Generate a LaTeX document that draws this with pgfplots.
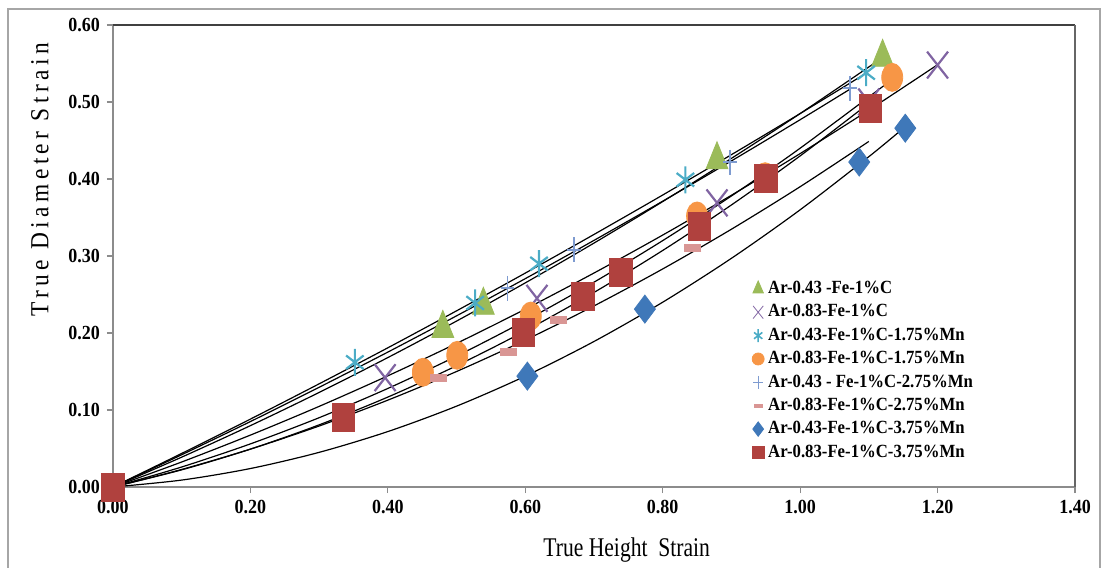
\documentclass[border=0pt]{standalone}
\usepackage{fontspec}
\setmainfont{Liberation Serif}[FakeStretch=0.9]
\usepackage{pgfplots}
\pgfplotsset{compat=1.18}
\definecolor{grn}{HTML}{9BBB59}
\definecolor{pur}{HTML}{8064A2}
\definecolor{cyn}{HTML}{4BACC6}
\definecolor{org}{HTML}{F79646}
\definecolor{plb}{HTML}{7E9BD0}
\definecolor{pnk}{HTML}{D99694}
\definecolor{dia}{HTML}{3F78B9}
\definecolor{sqr}{HTML}{B0413E}
\definecolor{framegray}{HTML}{A6A6A6}
\definecolor{axisgray}{HTML}{8C8C8C}
\pgfplotsset{trend/.style={black, line width=0.6pt, smooth, no marks, forget plot}}

\begin{document}
\begin{tikzpicture}
\begin{axis}[name=ax, at={(0,0)}, anchor=south west,
  scale only axis, width=481pt, height=231pt,
  xmin=0, xmax=1.4, ymin=0, ymax=0.6,
  xtick={0,0.2,0.4,0.6,0.8,1.0,1.2,1.4},
  ytick={0,0.1,0.2,0.3,0.4,0.5,0.6},
  axis lines=left, axis line style={-, draw=axisgray, line width=0.6pt},
  tick align=outside, major tick length=3pt,
  tick style={draw=axisgray, line width=0.6pt},
  clip=false,
  /pgf/number format/.cd, fixed, fixed zerofill, precision=2, assume math mode=true, /pgfplots/.cd,
  tick label style={font=\fontsize{10}{12}\selectfont\bfseries},
  xlabel={True Height\ \ Strain},
  ylabel={True Diameter Strain},
  xlabel style={at={(axis description cs:0.534,-0.136)}, anchor=center, font=\fontsize{13.5}{15}\selectfont\addfontfeatures{FakeStretch=0.8}},
  ylabel style={at={(axis description cs:-0.0759,0.665)}, anchor=center, font=\fontsize{13}{15}\selectfont\addfontfeatures{LetterSpace=17}},
  legend cell align=left,
  legend style={at={(0.664,0.455)}, anchor=north west, draw=none, fill=none,
    font=\fontsize{9.3}{11}\selectfont\bfseries, row sep=0pt, inner sep=0pt},
]
% markers (legend order, later on top)
\addplot[only marks, mark=triangle*, mark size=9pt, color=grn, mark options={xscale=0.7}, forget plot]
  coordinates {(0.480,0.206) (0.539,0.236) (0.879,0.425) (1.120,0.558)};
\addplot[only marks, mark=x, mark size=9.5pt, color=pur, mark options={xscale=0.78, line width=1.1pt}, forget plot]
  coordinates {(0.396,0.142) (0.617,0.245) (0.879,0.369) (1.100,0.500) (1.200,0.548)};
\addplot[only marks, mark=asterisk, mark size=6.75pt, color=cyn, mark options={xscale=0.75, line width=1.1pt}, forget plot]
  coordinates {(0.352,0.162) (0.527,0.239) (0.620,0.290) (0.833,0.399) (1.096,0.538)};
\addplot[only marks, mark=*, mark size=7pt, color=org, mark options={xscale=0.75}, forget plot]
  coordinates {(0.451,0.149) (0.501,0.171) (0.608,0.222) (0.850,0.352) (0.949,0.403) (1.134,0.532)};
\addplot[only marks, mark=+, mark size=6.25pt, color=plb, mark options={xscale=0.55, line width=0.9pt}, forget plot]
  coordinates {(0.574,0.258) (0.671,0.308) (0.898,0.422) (1.073,0.518)};
\addplot[only marks, mark=-, mark size=4.25pt, color=pnk, mark options={line width=4pt}, forget plot]
  coordinates {(0.473,0.142) (0.575,0.175) (0.648,0.217) (0.844,0.310) (1.100,0.478)};
\addplot[only marks, mark=diamond*, mark size=7pt, color=dia, forget plot]
  coordinates {(0.603,0.144) (0.774,0.231) (1.086,0.422) (1.153,0.466)};
\addplot[only marks, mark=square*, mark size=7pt, color=sqr, mark options={xscale=0.8}, forget plot]
  coordinates {(0,0) (0.335,0.090) (0.597,0.201) (0.684,0.247) (0.739,0.279) (0.853,0.338) (0.950,0.401) (1.102,0.492)};
% polynomial trend lines
\addplot[trend] coordinates {(0,0) (0.1,0.0388) (0.2,0.0797) (0.3,0.1228) (0.4,0.1681) (0.5,0.2155) (0.6,0.2651) (0.7,0.3168) (0.8,0.3707) (0.9,0.4268) (1.0,0.4850) (1.12,0.5577)};
\addplot[trend] coordinates {(0,0) (0.1,0.0325) (0.2,0.0674) (0.3,0.1047) (0.4,0.1444) (0.5,0.1865) (0.6,0.2310) (0.7,0.2779) (0.8,0.3272) (0.9,0.3789) (1.0,0.4330) (1.1,0.4895) (1.2,0.5484)};
\addplot[trend] coordinates {(0,0) (0.1,0.0436) (0.2,0.0882) (0.3,0.1340) (0.4,0.1808) (0.5,0.2288) (0.6,0.2778) (0.7,0.3280) (0.8,0.3792) (0.9,0.4316) (1.0,0.4850) (1.096,0.5374)};
\addplot[trend] coordinates {(0,0) (0.1,0.026) (0.2,0.056) (0.3,0.090) (0.4,0.128) (0.5,0.170) (0.6,0.216) (0.7,0.266) (0.8,0.320) (0.9,0.378) (1.0,0.440) (1.134,0.5294)};
\addplot[trend] coordinates {(0,0) (0.1,0.0419) (0.2,0.0850) (0.3,0.1295) (0.4,0.1752) (0.5,0.2223) (0.6,0.2706) (0.7,0.3203) (0.8,0.3712) (0.9,0.4235) (1.0,0.4770) (1.073,0.5169)};
\addplot[trend] coordinates {(0,0) (0.1,0.0228) (0.2,0.0492) (0.3,0.0792) (0.4,0.1128) (0.5,0.1500) (0.6,0.1908) (0.7,0.2352) (0.8,0.2832) (0.9,0.3348) (1.0,0.3900) (1.1,0.4488)};
\addplot[trend] coordinates {(0,0) (0.1,0.009) (0.2,0.024) (0.3,0.045) (0.4,0.072) (0.5,0.105) (0.6,0.144) (0.7,0.189) (0.8,0.240) (0.9,0.297) (1.0,0.360) (1.1,0.429) (1.153,0.468)};
\addplot[trend] coordinates {(0,0) (0.1,0.0223) (0.2,0.0492) (0.3,0.0807) (0.4,0.1168) (0.5,0.1575) (0.6,0.2028) (0.7,0.2527) (0.8,0.3072) (0.9,0.3663) (1.0,0.4300) (1.102,0.4997)};
% legend
\addlegendimage{only marks, mark=triangle*, mark size=4pt, color=grn, mark options={xscale=0.75}}
\addlegendentry{Ar-0.43 -Fe-1\%C}
\addlegendimage{only marks, mark=x, mark size=4.5pt, color=pur, mark options={xscale=0.8}}
\addlegendentry{Ar-0.83-Fe-1\%C}
\addlegendimage{only marks, mark=asterisk, mark size=3.2pt, color=cyn, mark options={xscale=0.75, line width=0.8pt}}
\addlegendentry{Ar-0.43-Fe-1\%C-1.75\%Mn}
\addlegendimage{only marks, mark=*, mark size=3pt, color=org}
\addlegendentry{Ar-0.83-Fe-1\%C-1.75\%Mn}
\addlegendimage{only marks, mark=+, mark size=3.2pt, color=plb, mark options={xscale=0.8}}
\addlegendentry{Ar-0.43 - Fe-1\%C-2.75\%Mn}
\addlegendimage{only marks, mark=-, mark size=2.2pt, color=pnk, mark options={line width=2pt}}
\addlegendentry{Ar-0.83-Fe-1\%C-2.75\%Mn}
\addlegendimage{only marks, mark=diamond*, mark size=3.6pt, color=dia}
\addlegendentry{Ar-0.43-Fe-1\%C-3.75\%Mn}
\addlegendimage{only marks, mark=square*, mark size=3pt, color=sqr}
\addlegendentry{Ar-0.83-Fe-1\%C-3.75\%Mn}
% plot area border on top and right
\draw[black!75, line width=1.2pt] (rel axis cs:0,1) -- (rel axis cs:1,1);
\draw[black!60, line width=0.6pt] (rel axis cs:1,1) -- (rel axis cs:1,0);
\end{axis}
\pgfresetboundingbox
\path[use as bounding box] (-56.5pt,-40.5pt) rectangle (495.5pt,243.5pt);
\draw[framegray, line width=1pt] (-52.5pt,-45pt) -- (-52.5pt,239pt) -- (493.5pt,239pt) -- (493.5pt,-45pt);
\end{tikzpicture}
\end{document}
